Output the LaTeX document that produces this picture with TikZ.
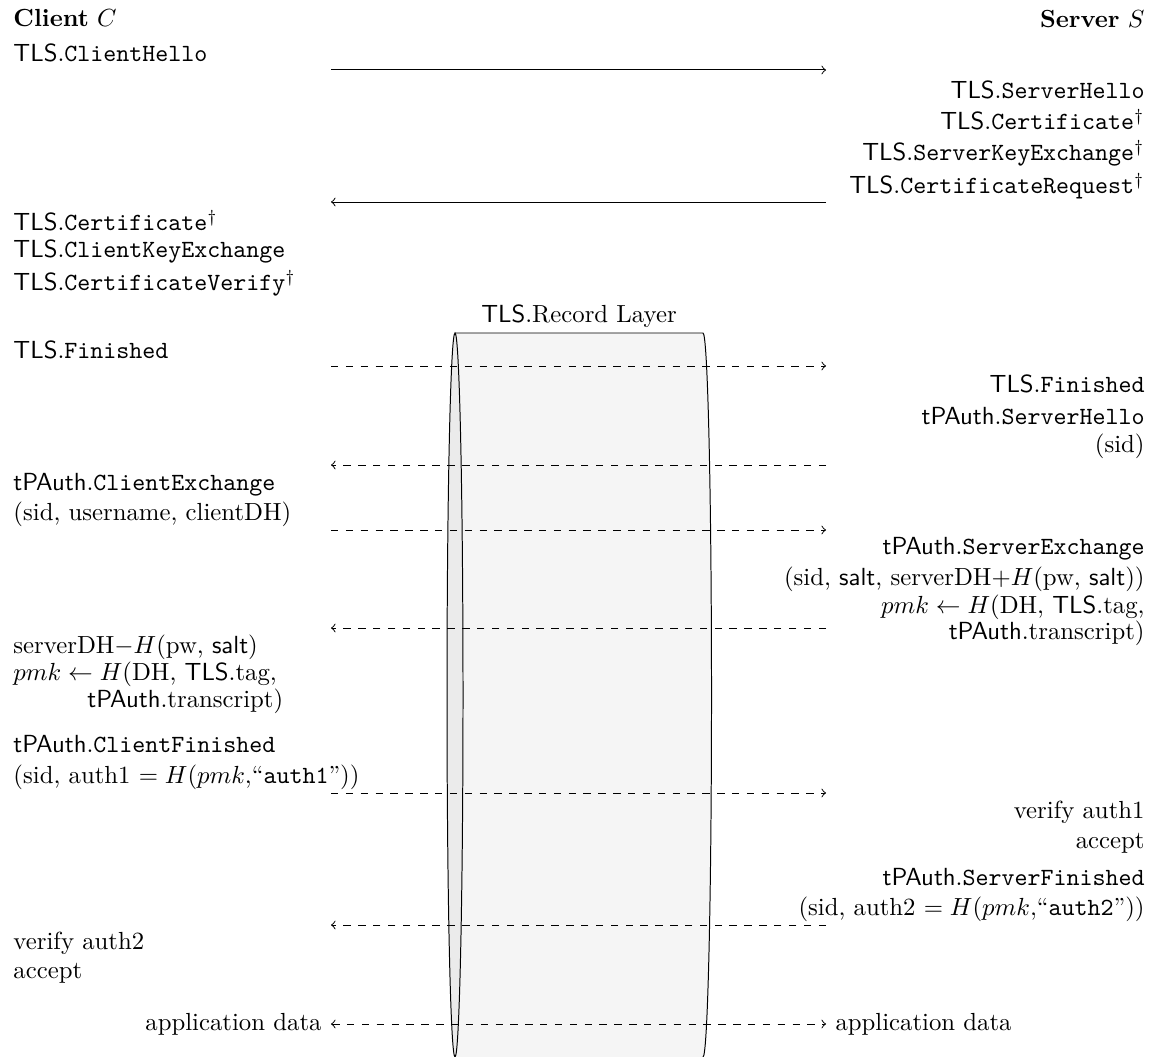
\documentclass[tikz,border=0pt]{standalone}
\begin{document}
\begin{tikzpicture}[x=0.404pt,y=0.404pt,
  L/.style={anchor=base west, inner sep=0pt},
  R/.style={anchor=base east, inner sep=0pt},
  msg/.style={->},
  dmsg/.style={->,dashed},
  cylbody/.style={fill=gray!8},
  cylcap/.style={fill=gray!16, draw=black}]
\useasboundingbox (0,0) rectangle (1151,1056);

% record layer cylinder
\fill[cylbody] (455,723) -- (703,723) arc[start angle=90,end angle=-90,x radius=8.5,y radius=362] -- (455,-1) -- cycle;
\draw (455,723) -- (703,723) arc[start angle=90,end angle=-90,x radius=8.5,y radius=362];
\draw[cylcap] (455,361) ellipse[x radius=8,y radius=362];
\node[anchor=base, inner sep=0pt] (rl) at (579,733) {\textsf{TLS}.Record Layer};

% headers
\node[L] (cC) at (13,1029) {\textbf{Client} $C$};
\node[R] (sS) at (1145,1028) {\textbf{Server} $S$};

% left column
\node[L] (c1) at (13,994) {\textsf{TLS}.\texttt{ClientHello}};
\node[L] (c2) at (13,825) {\textsf{TLS}.\texttt{Certificate}$^\dagger$};
\node[L] (c3) at (13,798) {\textsf{TLS}.\texttt{ClientKeyExchange}};
\node[L] (c4) at (13,765) {\textsf{TLS}.\texttt{CertificateVerify}$^\dagger$};
\node[L] (c5) at (13,698) {\textsf{TLS}.\texttt{Finished}};
\node[L] (c6) at (13,566) {\textsf{tPAuth}.\texttt{ClientExchange}};
\node[L] (c7) at (13,536) {(sid, username, clientDH)};
\node[L] (c8) at (13,403) {serverDH$-H($pw, \textsf{salt}$)$};
\node[L] (c9) at (13,376) {$pmk \leftarrow H($DH, \textsf{TLS}.tag,};
\node[L] (c10) at (87,349) {\textsf{tPAuth}.transcript$)$};
\node[L] (c11) at (13,304) {\textsf{tPAuth}.\texttt{ClientFinished}};
\node[L] (c12) at (13,273) {(sid, auth1 $= H(pmk,$``\texttt{auth1}''$))$};
\node[L] (c13) at (13,107) {verify auth2};
\node[L] (c14) at (13,78) {accept};
\node[R] (cad) at (322,26) {application data};

% right column
\node[R] (s1) at (1145,957) {\textsf{TLS}.\texttt{ServerHello}};
\node[R] (s2) at (1145,926) {\textsf{TLS}.\texttt{Certificate}$^\dagger$};
\node[R] (s3) at (1145,895) {\textsf{TLS}.\texttt{ServerKeyExchange}$^\dagger$};
\node[R] (s4) at (1145,862) {\textsf{TLS}.\texttt{CertificateRequest}$^\dagger$};
\node[R] (s5) at (1145,664) {\textsf{TLS}.\texttt{Finished}};
\node[R] (s6) at (1145,632) {\textsf{tPAuth}.\texttt{ServerHello}};
\node[R] (s7) at (1145,604) {(sid)};
\node[R] (s8) at (1145,502) {\textsf{tPAuth}.\texttt{ServerExchange}};
\node[R] (s9) at (1145,471) {(sid, \textsf{salt}, serverDH$+H($pw, \textsf{salt}$))$};
\node[R] (s10) at (1145,443) {$pmk \leftarrow H($DH, \textsf{TLS}.tag,};
\node[R] (s11) at (1145,417) {\textsf{tPAuth}.transcript$)$};
\node[R] (s12) at (1145,238) {verify auth1};
\node[R] (s13) at (1145,208) {accept};
\node[R] (s14) at (1145,171) {\textsf{tPAuth}.\texttt{ServerFinished}};
\node[R] (s15) at (1145,141) {(sid, auth2 $= H(pmk,$``\texttt{auth2}''$))$};
\node[L] (sad) at (835,26) {application data};

% arrow end points
\foreach \n/\y in {1/986,2/854,3/690,4/591,5/526,6/428,7/263,8/131,9/32}{
  \coordinate (l\n) at (331,\y);
  \coordinate (r\n) at (826,\y);
}
\draw[msg] (l1) -- (r1);
\draw[msg] (r2) -- (l2);
\draw[dmsg] (l3) -- (r3);
\draw[dmsg] (r4) -- (l4);
\draw[dmsg] (l5) -- (r5);
\draw[dmsg] (r6) -- (l6);
\draw[dmsg] (l7) -- (r7);
\draw[dmsg] (r8) -- (l8);
\draw[dashed,<->] (l9) -- (r9);
\end{tikzpicture}
\end{document}
